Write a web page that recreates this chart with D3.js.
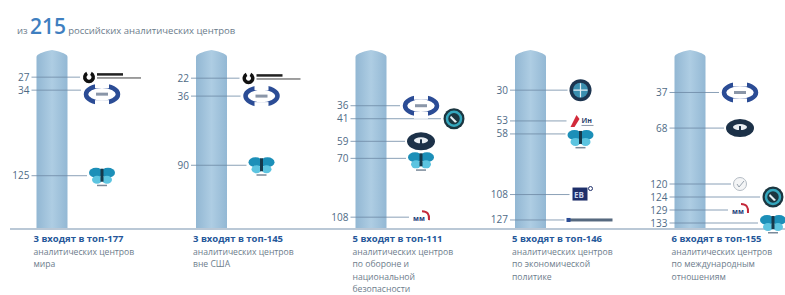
<!DOCTYPE html>
<html>
<head>
<meta charset="utf-8">
<script src="https://cdn.jsdelivr.net/npm/d3@7"></script>
<style>
  body { margin: 0; background: #fff; }
  svg { display: block; }
  text { font-family: "Open Sans", "Liberation Sans", Arial, sans-serif; }
</style>
</head>
<body>
<svg width="785" height="295"></svg>
<script>
// ---- data ----
const totalCentres = 215;
const enteredCounts = [3, 3, 5, 5, 6];
const topSizes = [177, 145, 111, 146, 155];
const captionLines = [
    ['аналитических центров', 'мира'],
    ['аналитических центров', 'вне США'],
    ['аналитических центров', 'по обороне и', 'национальной', 'безопасности'],
    ['аналитических центров', 'по экономической', 'политике'],
    ['аналитических центров', 'по международным', 'отношениям']
];
const ranks = [
    [27, 34, 125],
    [22, 36, 90],
    [36, 41, 59, 70, 108],
    [30, 53, 58, 108, 127],
    [37, 68, 120, 124, 129, 133]
];
const logos = [
    ['carnegie', 'imemo', 'butterfly'],
    ['carnegie', 'imemo', 'butterfly'],
    ['imemo', 'ring', 'navyOval', 'butterfly', 'mm'],
    ['globe', 'flag', 'butterfly', 'square', 'strip'],
    ['imemo', 'navyOval', 'greyCircle', 'ring', 'mm', 'butterfly']
];

// ---- layout ----
// the columns in the original are not drawn to one common scale
const axisMax = [177, 139, 115, 133, 155];
const barTop = 50, barBottom = 228, barW = 31;
const svg = d3.select('svg');
const x = d3.scalePoint().domain(d3.range(5)).range([52, 690]);

const defs = svg.append('defs');
const grad = defs.append('linearGradient').attr('id', 'barGrad');
grad.append('stop').attr('offset', '0%').attr('stop-color', '#92b7d3');
grad.append('stop').attr('offset', '50%').attr('stop-color', '#aecde3');
grad.append('stop').attr('offset', '100%').attr('stop-color', '#93b8d4');

// title
const title = svg.append('text').attr('x', 17).attr('y', 34).attr('fill', '#6b7b8b').attr('font-size', 9.5);
title.append('tspan').text('из ');
title.append('tspan').attr('font-size', 21).attr('fill', '#3f7fc0').attr('font-weight', 600).text(totalCentres);
title.append('tspan').attr('dx', 2).text('российских аналитических центров');

// baseline
svg.append('line')
    .attr('x1', 10).attr('x2', 785).attr('y1', barBottom + 1).attr('y2', barBottom + 1)
    .attr('stroke', '#a3b6c8').attr('stroke-width', 1.5);

// logo shapes (rough stand-ins for the think-tank emblems)
const logoKinds = {
    carnegie: {h: 10, left: -20, draw: g => {
        g.append('path').attr('d', d3.arc()({innerRadius: 2.5, outerRadius: 6, startAngle: Math.PI * 0.15, endAngle: Math.PI * 1.85}))
            .attr('transform', 'translate(-13,0)').attr('fill', '#111');
        g.append('rect').attr('x', -5).attr('y', -4).attr('width', 26).attr('height', 2.5).attr('fill', '#222');
        g.append('rect').attr('x', -5).attr('y', 0).attr('width', 44).attr('height', 1.6).attr('fill', '#888');
    }},
    imemo: {h: 20, left: -19, draw: g => {
        g.append('ellipse').attr('rx', 16).attr('ry', 8.5).attr('fill', 'none')
            .attr('stroke', '#2b4c95').attr('stroke-width', 4.5);
        g.append('rect').attr('x', -7).attr('y', -13).attr('width', 14).attr('height', 7).attr('fill', '#fff');
        g.append('rect').attr('x', -7).attr('y', 6).attr('width', 14).attr('height', 7).attr('fill', '#fff');
        g.append('rect').attr('x', -6).attr('y', -1.5).attr('width', 12).attr('height', 3).attr('fill', '#8a96a8');
    }},
    butterfly: {h: 18, left: -13, draw: g => {
        g.append('ellipse').attr('cx', -6).attr('cy', -3).attr('rx', 7).attr('ry', 5).attr('fill', '#1c8fb8');
        g.append('ellipse').attr('cx', 6).attr('cy', -3).attr('rx', 7).attr('ry', 5).attr('fill', '#1c8fb8');
        g.append('ellipse').attr('cx', -5).attr('cy', 4).attr('rx', 5).attr('ry', 4).attr('fill', '#5cc4e0');
        g.append('ellipse').attr('cx', 5).attr('cy', 4).attr('rx', 5).attr('ry', 4).attr('fill', '#5cc4e0');
        g.append('rect').attr('x', -1.5).attr('y', -7).attr('width', 3).attr('height', 13).attr('fill', '#17384a');
        g.append('rect').attr('x', -5).attr('y', 9).attr('width', 10).attr('height', 1.5).attr('fill', '#7a8a9a');
    }},
    ring: {h: 22, left: -11, draw: g => {
        g.append('circle').attr('r', 10.5).attr('fill', '#1b3640');
        g.append('circle').attr('r', 7).attr('fill', 'none').attr('stroke', '#35a7bd').attr('stroke-width', 2.5);
        g.append('path').attr('d', 'M-3,-3 L3,3 L1,4 L-4,-1 Z').attr('fill', '#e8f2f5');
    }},
    navyOval: {h: 16, left: -14, draw: g => {
        g.append('ellipse').attr('rx', 14).attr('ry', 9).attr('fill', '#1c3148');
        g.append('ellipse').attr('cy', -1).attr('rx', 7).attr('ry', 3).attr('fill', '#e9eef3');
        g.append('rect').attr('x', -1).attr('y', -2).attr('width', 2).attr('height', 8).attr('fill', '#1c3148');
    }},
    mm: {h: 12, left: -10, draw: g => {
        g.append('text').attr('x', -8).attr('y', 4).attr('font-size', 7).attr('font-weight', 700)
            .attr('fill', '#1d3f7a').text('мм');
        g.append('path').attr('d', 'M1,-6 Q9,-6 8,3').attr('fill', 'none').attr('stroke', '#c4283a').attr('stroke-width', 2);
    }},
    globe: {h: 22, left: -11, draw: g => {
        g.append('circle').attr('r', 11).attr('fill', '#1d3550');
        g.append('circle').attr('r', 7.5).attr('fill', '#3b8fb0');
        g.append('path').attr('d', 'M-7,0 H7 M0,-7 V7').attr('stroke', '#e5f0f5').attr('stroke-width', 1.2);
    }},
    flag: {h: 12, left: -12, draw: g => {
        g.append('path').attr('d', 'M-10,6 L-4,-6 L-1,-2 L-6,6 Z').attr('fill', '#d22a3a');
        g.append('text').attr('x', 1).attr('y', 2).attr('font-size', 7).attr('font-weight', 700)
            .attr('fill', '#2a3f6e').text('Ин');
        g.append('rect').attr('x', 1).attr('y', 4).attr('width', 12).attr('height', 1).attr('fill', '#8a96a8');
    }},
    square: {h: 14, left: -9, draw: g => {
        g.append('rect').attr('x', -8).attr('y', -7).attr('width', 15).attr('height', 13).attr('fill', '#1e2f6a');
        g.append('text').attr('x', -6.5).attr('y', 3).attr('font-size', 8).attr('font-weight', 700)
            .attr('fill', '#c9d4ea').text('ЕВ');
        g.append('circle').attr('cx', 10).attr('cy', -6).attr('r', 2).attr('fill', 'none').attr('stroke', '#1e2f6a');
    }},
    strip: {h: 5, left: -14, draw: g => {
        g.append('rect').attr('x', -12).attr('y', -1.5).attr('width', 44).attr('height', 3).attr('fill', '#56697f');
        g.append('rect').attr('x', -14).attr('y', -2).attr('width', 4).attr('height', 4).attr('fill', '#2b4c95');
    }},
    greyCircle: {h: 14, left: -7, draw: g => {
        g.append('circle').attr('r', 6.5).attr('fill', '#f4f5f6').attr('stroke', '#b4bcc4');
        g.append('path').attr('d', 'M-3,0 L-1,3 L4,-3').attr('fill', 'none').attr('stroke', '#98a3ae');
    }}
};

// spread labels that would overlap
function dodge(ys, gap, max) {
    const out = ys.slice();
    for (let i = 1; i < out.length; i++) out[i] = Math.max(out[i], out[i - 1] + gap);
    if (out[out.length - 1] > max) {
        out[out.length - 1] = max;
        for (let i = out.length - 2; i >= 0; i--) out[i] = Math.min(out[i], out[i + 1] - gap);
    }
    return out;
}

ranks.forEach((panelRanks, p) => {
    const cx = x(p);
    const left = cx - barW / 2, right = cx + barW / 2;
    const y = d3.scaleLinear().domain([0, axisMax[p]]).range([barTop, barBottom]);
    const g = svg.append('g');

    g.append('path')
        .attr('d', `M${left},${barBottom} L${left},${barTop + 7} Q${left},${barTop + 3} ${cx},${barTop} Q${right},${barTop + 3} ${right},${barTop + 7} L${right},${barBottom} Z`)
        .attr('fill', 'url(#barGrad)');

    const labelY = dodge(panelRanks.map(r => y(r)), 13, barBottom - 5);

    // place emblems in two columns so they do not collide
    const cols = [null, null];
    const placed = panelRanks.map((r, i) => {
        const kind = logoKinds[logos[p][i]];
        const push = c => cols[c] ? Math.max(0, cols[c].y + (cols[c].h + kind.h) / 2 + 2 - labelY[i]) : 0;
        let col = 0;
        const crowded = push(0) > 4 || labelY[i] + push(0) + kind.h / 2 > barBottom;
        if (crowded && push(1) < push(0)) col = 1;
        const iy = labelY[i] + push(col);
        cols[col] = {y: iy, h: kind.h};
        return {kind, ix: cx + 50 + col * 33, iy, ly: labelY[i], r};
    });

    g.selectAll('line.leader').data(placed).enter().append('line')
        .attr('class', 'leader')
        .attr('x1', left - 5).attr('x2', d => d.ix + d.kind.left - 2)
        .attr('y1', d => d.ly).attr('y2', d => d.ly)
        .attr('stroke', '#6d89a4').attr('stroke-width', 0.8);

    g.selectAll('text.rank').data(placed).enter().append('text')
        .attr('class', 'rank')
        .attr('x', left - 7).attr('y', d => d.ly).attr('dy', '0.35em')
        .attr('text-anchor', 'end').attr('font-size', 10).attr('fill', '#4f6b86')
        .text(d => d.r);

    placed.forEach(d => {
        const lg = g.append('g').attr('transform', `translate(${d.ix},${d.iy})`);
        d.kind.draw(lg);
    });

    const cap = g.append('text').attr('x', left - 3).attr('y', 242).attr('font-size', 8.6).attr('fill', '#6d7d8c');
    cap.append('tspan').attr('x', left - 3).attr('font-weight', 700).attr('font-size', 9.5).attr('fill', '#25579a')
        .text(`${enteredCounts[p]} входят в топ-${topSizes[p]}`);
    captionLines[p].forEach(line => {
        cap.append('tspan').attr('x', left - 3).attr('dy', 12.5).text(line);
    });
});
</script>
</body>
</html>
